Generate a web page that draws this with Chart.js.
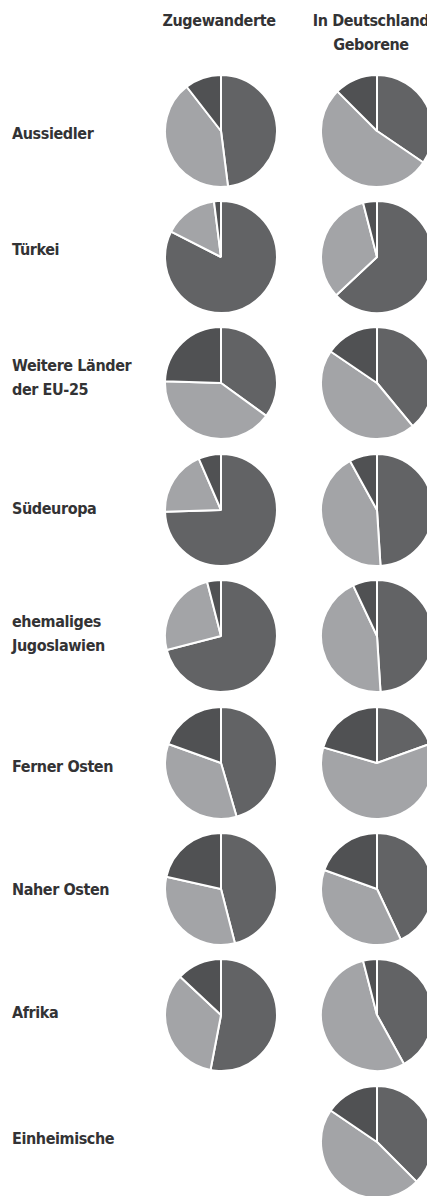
<!DOCTYPE html>
<html>
<head>
<meta charset="utf-8">
<script src="https://cdn.jsdelivr.net/npm/chart.js@4.4.0/dist/chart.umd.min.js"></script>
<style>
  html, body { margin: 0; padding: 0; background: #ffffff; }
  body { width: 427px; height: 1196px; position: relative; overflow: hidden;
         font-family: "DejaVu Sans Condensed", "DejaVu Sans", sans-serif; font-stretch: condensed;
         font-weight: bold; color: #333335; }
  .lbl { position: absolute; left: 12px; font-size: 16px; letter-spacing: -0.4px; line-height: 24px; white-space: nowrap; transform: translateY(-50%); }
  .hdr { position: absolute; font-size: 16px; letter-spacing: -0.4px; line-height: 24px; text-align: center; white-space: nowrap; transform: translate(-50%, -50%); }
  canvas { position: absolute; }
</style>
</head>
<body>
<script>
// ---- data ----
const categories = ["Aussiedler", "Türkei", "Weitere Länder\nder EU-25", "Südeuropa", "ehemaliges\nJugoslawien",
                    "Ferner Osten", "Naher Osten", "Afrika", "Einheimische"];
const columns = ["Zugewanderte", "In Deutschland\nGeborene"];
// Zugewanderte: slice shares (clockwise from 12 o'clock)
const zugShareA = [48, 82.5, 35, 74.5, 71, 45.5, 46, 53, null];
const zugShareB = [41.5, 15.5, 40.5, 19, 25, 35, 32.5, 34, null];
const zugShareC = [10.5, 2, 24.5, 6.5, 4, 19.5, 21.5, 13, null];
// In Deutschland Geborene
const gebShareA = [34.5, 63, 39, 49, 49, 19.5, 43, 42, 37.5];
const gebShareB = [53, 33, 45.5, 43, 44, 60, 37.5, 54, 47];
const gebShareC = [12.5, 4, 15.5, 8, 7, 20.5, 19.5, 4, 15.5];

// ---- layout / style ----
const sliceColors = ["#626365", "#a3a4a7", "#505153"];
const colX = [221, 377];
const rowY0 = 130.5, rowStep = 126.4;
const labelY = [134, 250, 378, 509, 634, 767, 889.5, 1013, 1139];
const size = 114;

columns.forEach((c, i) => {
  const d = document.createElement('div');
  d.className = 'hdr';
  d.style.left = (i === 0 ? 219 : 371) + 'px';
  d.style.top = (i === 0 ? 21 : 33) + 'px';
  d.innerHTML = c.split('\n').join('<br>');
  document.body.appendChild(d);
});

categories.forEach((c, r) => {
  const d = document.createElement('div');
  d.className = 'lbl';
  d.style.top = labelY[r] + 'px';
  d.innerHTML = c.split('\n').join('<br>');
  document.body.appendChild(d);
});

function makePie(cx, cy, values) {
  const cv = document.createElement('canvas');
  cv.width = size; cv.height = size;
  cv.style.width = size + 'px'; cv.style.height = size + 'px';
  cv.style.left = (cx - size / 2) + 'px';
  cv.style.top = (cy - size / 2) + 'px';
  document.body.appendChild(cv);
  new Chart(cv, {
    type: 'pie',
    data: {
      labels: ['A', 'B', 'C'],
      datasets: [{ data: values, backgroundColor: sliceColors, borderColor: '#ffffff', borderWidth: 2 }]
    },
    options: {
      responsive: false, animation: false, devicePixelRatio: 1,
      layout: { padding: 0 },
      plugins: { legend: { display: false }, tooltip: { enabled: false } },
      events: []
    }
  });
}

categories.forEach((c, r) => {
  const cy = rowY0 + r * rowStep;
  if (zugShareA[r] !== null) makePie(colX[0], cy, [zugShareA[r], zugShareB[r], zugShareC[r]]);
  if (gebShareA[r] !== null) makePie(colX[1], cy, [gebShareA[r], gebShareB[r], gebShareC[r]]);
});
</script>
</body>
</html>
